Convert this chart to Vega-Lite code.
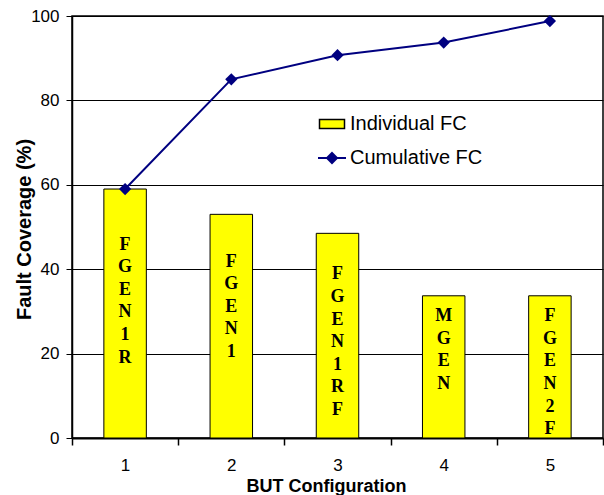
{
  "$schema": "https://vega.github.io/schema/vega-lite/v6.json",
  "autosize": "none",
  "width": 531,
  "height": 422,
  "padding": {"left": 72, "top": 16, "right": 1, "bottom": 57},
  "background": "white",
  "config": {
    "view": {"stroke": "black", "strokeWidth": 1.5},
    "font": "Liberation Sans"
  },
  "data": {
    "values": [
      {"config": "1", "individual": 59.0, "cumulative": 59.0, "label": "F\nG\nE\nN\n1\nR"},
      {"config": "2", "individual": 53.0, "cumulative": 85.0, "label": "F\nG\nE\nN\n1"},
      {"config": "3", "individual": 48.5, "cumulative": 90.7, "label": "F\nG\nE\nN\n1\nR\nF"},
      {"config": "4", "individual": 33.7, "cumulative": 93.7, "label": "M\nG\nE\nN"},
      {"config": "5", "individual": 33.7, "cumulative": 98.8, "label": "F\nG\nE\nN\n2\nF"}
    ]
  },
  "encoding": {
    "x": {
      "field": "config", "type": "ordinal",
      "scale": {"paddingInner": 0, "paddingOuter": 0},
      "axis": {
        "title": "BUT Configuration", "titleFont": "Liberation Sans", "titleFontSize": 18, "titleFontWeight": "bold", "titleColor": "black",
        "titlePadding": 0, "titleY": 39, "titleBaseline": "top", "titleX": 254,
        "labelAngle": 0, "labelFont": "Liberation Sans", "labelFontSize": 17, "labelColor": "black", "labelPadding": 12,
        "tickBand": "extent", "tickSize": 7, "tickColor": "black", "tickWidth": 1.5,
        "domainColor": "black", "domainWidth": 2, "grid": false
      }
    }
  },
  "layer": [
    {
      "mark": {"type": "bar", "width": {"band": 0.4}, "stroke": "black", "strokeWidth": 1},
      "encoding": {
        "y": {
          "field": "individual", "type": "quantitative",
          "scale": {"domain": [0, 100]},
          "axis": {
            "title": "Fault Coverage (%)", "titleFont": "Liberation Sans", "titleFontSize": 20, "titleFontWeight": "bold", "titleColor": "black",
            "titleX": -48, "titleY": 213, "titleAngle": -90, "titleAlign": "center", "titleBaseline": "middle",
            "values": [0, 20, 40, 60, 80, 100],
            "labelFont": "Liberation Sans", "labelFontSize": 17, "labelColor": "black", "labelPadding": 7,
            "tickSize": 6, "tickColor": "black", "domainColor": "black", "domainWidth": 1.5,
            "grid": true, "gridColor": "black", "gridWidth": 1, "gridOpacity": 1
          }
        },
        "fill": {
          "datum": "Individual FC",
          "scale": {"domain": ["Individual FC"], "range": ["#ffff00"]},
          "legend": {
            "title": null, "orient": "none", "legendX": 249, "legendY": 97, "padding": 0,
            "symbolType": "M-1.25,-0.45H1.25V0.45H-1.25Z", "symbolSize": 400,
            "labelFont": "Liberation Sans", "labelFontSize": 20, "labelColor": "black", "labelOffset": 7,
            "encode": {"symbols": {"update": {"stroke": {"value": "black"}, "strokeWidth": {"value": 1}, "fill": {"value": "#ffff00"}, "fillOpacity": {"value": 1}}}}
          }
        }
      }
    },
    {
      "mark": {"type": "text", "font": "Liberation Serif", "fontWeight": "bold", "fontSize": 18, "lineBreak": "\n", "lineHeight": 22.6, "baseline": "middle", "align": "center", "color": "black"},
      "encoding": {
        "y": {"field": "individual", "type": "quantitative", "scale": {"domain": [-9.4, 139.9]}, "axis": null},
        "text": {"field": "label"}
      }
    },
    {
      "mark": {"type": "line", "color": "#000080", "strokeWidth": 2},
      "encoding": {
        "y": {"field": "cumulative", "type": "quantitative", "scale": {"domain": [0, 100]}, "axis": null},
        "stroke": {
          "datum": "Cumulative FC",
          "scale": {"domain": ["Cumulative FC"], "range": ["#000080"]},
          "legend": {
            "title": null, "orient": "none", "legendX": 249, "legendY": 131, "padding": 0,
            "symbolType": "M-1.4,0H1.4M0,-0.5L0.5,0L0,0.5L-0.5,0Z", "symbolSize": 400, "symbolStrokeWidth": 2,
            "labelFont": "Liberation Sans", "labelFontSize": 20, "labelColor": "black", "labelOffset": 7,
            "encode": {"symbols": {"update": {"stroke": {"value": "#000080"}, "fill": {"value": "#000080"}, "fillOpacity": {"value": 1}, "strokeWidth": {"value": 2}}}}
          }
        }
      }
    },
    {
      "mark": {"type": "point", "shape": "diamond", "filled": true, "size": 150, "color": "#000080", "opacity": 1},
      "encoding": {
        "y": {"field": "cumulative", "type": "quantitative", "scale": {"domain": [0, 100]}, "axis": null}
      }
    }
  ],
  "resolve": {"scale": {"y": "independent"}}
}
